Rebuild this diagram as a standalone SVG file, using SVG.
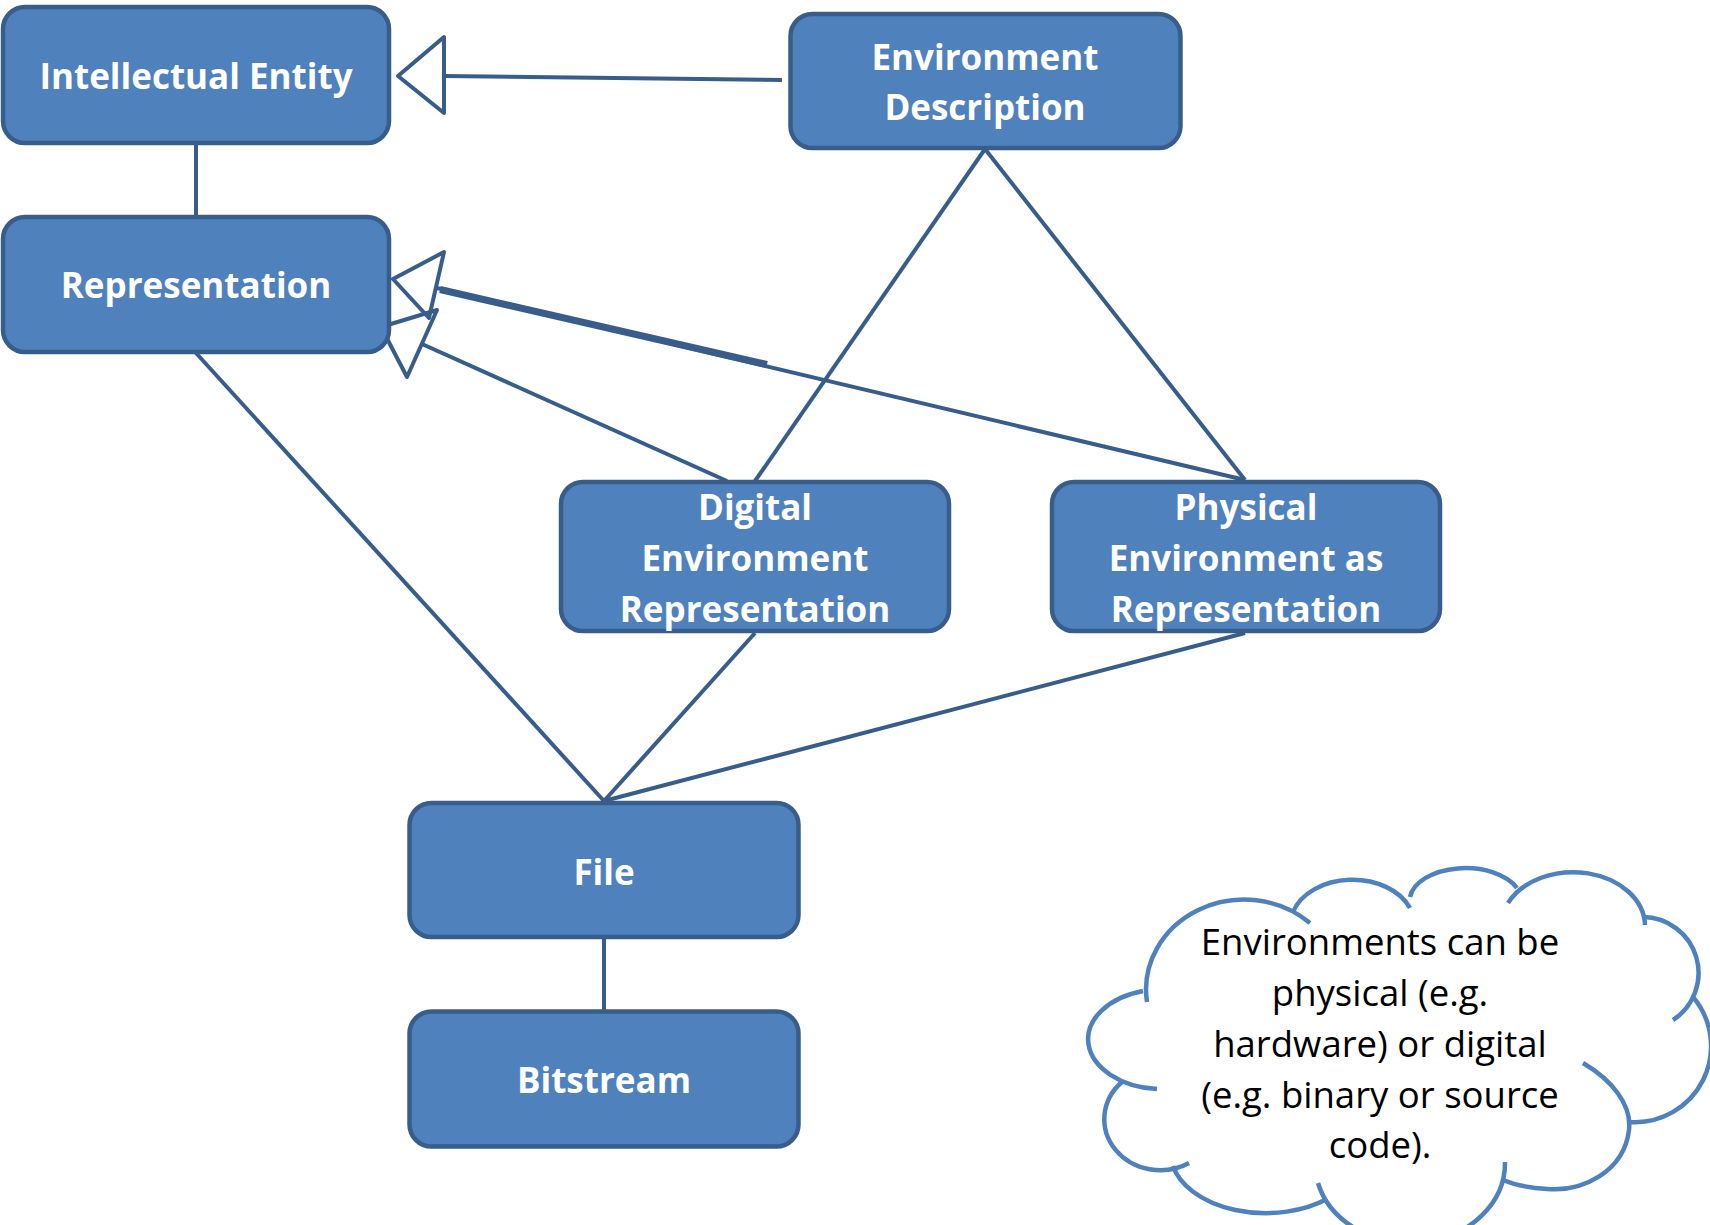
<svg xmlns="http://www.w3.org/2000/svg" width="1710" height="1225" viewBox="0 0 1710 1225">
<style>
.node rect{fill:#4F81BD;stroke:#385D8A;stroke-width:4.5}
.node text{font-family:"Open Sans","Liberation Sans",sans-serif;font-weight:bold;font-size:35px;fill:#FFFFFF;text-anchor:middle}
.conn line{stroke:#385D8A;stroke-width:4;fill:none}
.conn polygon{stroke:#385D8A;stroke-width:4;fill:none;stroke-linejoin:round}
.cloud path{fill:none;stroke:#4F81BD;stroke-width:4.5}
.cloud text{font-family:"Open Sans","Liberation Sans",sans-serif;font-size:36.5px;fill:#000000;text-anchor:middle}
</style>
<rect width="1710" height="1225" fill="#FFFFFF"/>
<g id="connectors" class="conn">
  <line x1="196" y1="145" x2="196" y2="215"/>
  <line x1="604" y1="939" x2="604" y2="1010"/>
  <line x1="444" y1="76" x2="782" y2="80"/>
  <polygon points="398,76 444,37 444,113"/>
  <line x1="985" y1="149" x2="755" y2="481"/>
  <line x1="985" y1="149" x2="1245" y2="480"/>
  <line x1="1245" y1="480" x2="437" y2="288"/>
  <line x1="440" y1="289.5" x2="767" y2="364.5" style="stroke-width:7"/>
  <polygon points="393,279 444,252 429,318"/>
  <line x1="727" y1="481" x2="422" y2="344"/>
  <polygon points="381,327 437,310 407,377"/>
  <line x1="196" y1="353" x2="604" y2="801"/>
  <line x1="755" y1="633" x2="604" y2="801"/>
  <line x1="1245" y1="633" x2="604" y2="801"/>
</g>
<g id="node-intellectual-entity" class="node">
  <rect x="3" y="7" width="386" height="136" rx="22"/>
  <text x="196" y="89">Intellectual Entity</text>
</g>
<g id="node-representation" class="node">
  <rect x="3" y="217" width="386" height="135" rx="22"/>
  <text x="196" y="298">Representation</text>
</g>
<g id="node-environment-description" class="node">
  <rect x="790.5" y="14" width="390" height="134" rx="22"/>
  <text x="985" y="70">Environment</text>
  <text x="985" y="120">Description</text>
</g>
<g id="node-digital-environment-representation" class="node">
  <rect x="561" y="482" width="388" height="149" rx="22"/>
  <text x="755" y="520">Digital</text>
  <text x="755" y="571">Environment</text>
  <text x="755" y="622">Representation</text>
</g>
<g id="node-physical-environment-representation" class="node">
  <rect x="1052" y="482" width="388" height="149" rx="22"/>
  <text x="1246" y="520">Physical</text>
  <text x="1246" y="571">Environment as</text>
  <text x="1246" y="622">Representation</text>
</g>
<g id="node-file" class="node">
  <rect x="409.5" y="803" width="389" height="134" rx="22"/>
  <text x="604" y="885">File</text>
</g>
<g id="node-bitstream" class="node">
  <rect x="409.5" y="1011.5" width="389" height="135" rx="22"/>
  <text x="604" y="1093">Bitstream</text>
</g>
<g id="note-cloud" class="cloud">
  <path d="M1147,1002 A98,90 0 0 1 1310,923"/>
  <path d="M1293,912 A62,45 0 0 1 1410,908"/>
  <path d="M1410,897 A56,33 0 0 1 1517,888"/>
  <path d="M1508,903 A72,54 0 0 1 1645,925"/>
  <path d="M1643,917 A56,56 0 0 1 1673,1020"/>
  <path d="M1693,997 A76,76 0 0 1 1630,1122"/>
  <path d="M1583,1063 C1612,1080 1632,1105 1629,1130 C1624,1172 1582,1192 1547,1189 C1530,1188 1515,1185 1503,1180"/>
  <path d="M1505,1162 A95,80 0 0 1 1318,1183"/>
  <path d="M1327,1199 A95,60 0 0 1 1173,1166"/>
  <path d="M1189,1163 A56,51 0 0 1 1122,1082"/>
  <path d="M1157,1089 A75,50 0 0 1 1143,991"/>
  <text x="1380" y="955">Environments can be</text>
  <text x="1380" y="1006">physical (e.g.</text>
  <text x="1380" y="1057">hardware) or digital</text>
  <text x="1380" y="1108">(e.g. binary or source</text>
  <text x="1380" y="1158">code).</text>
</g>
</svg>
